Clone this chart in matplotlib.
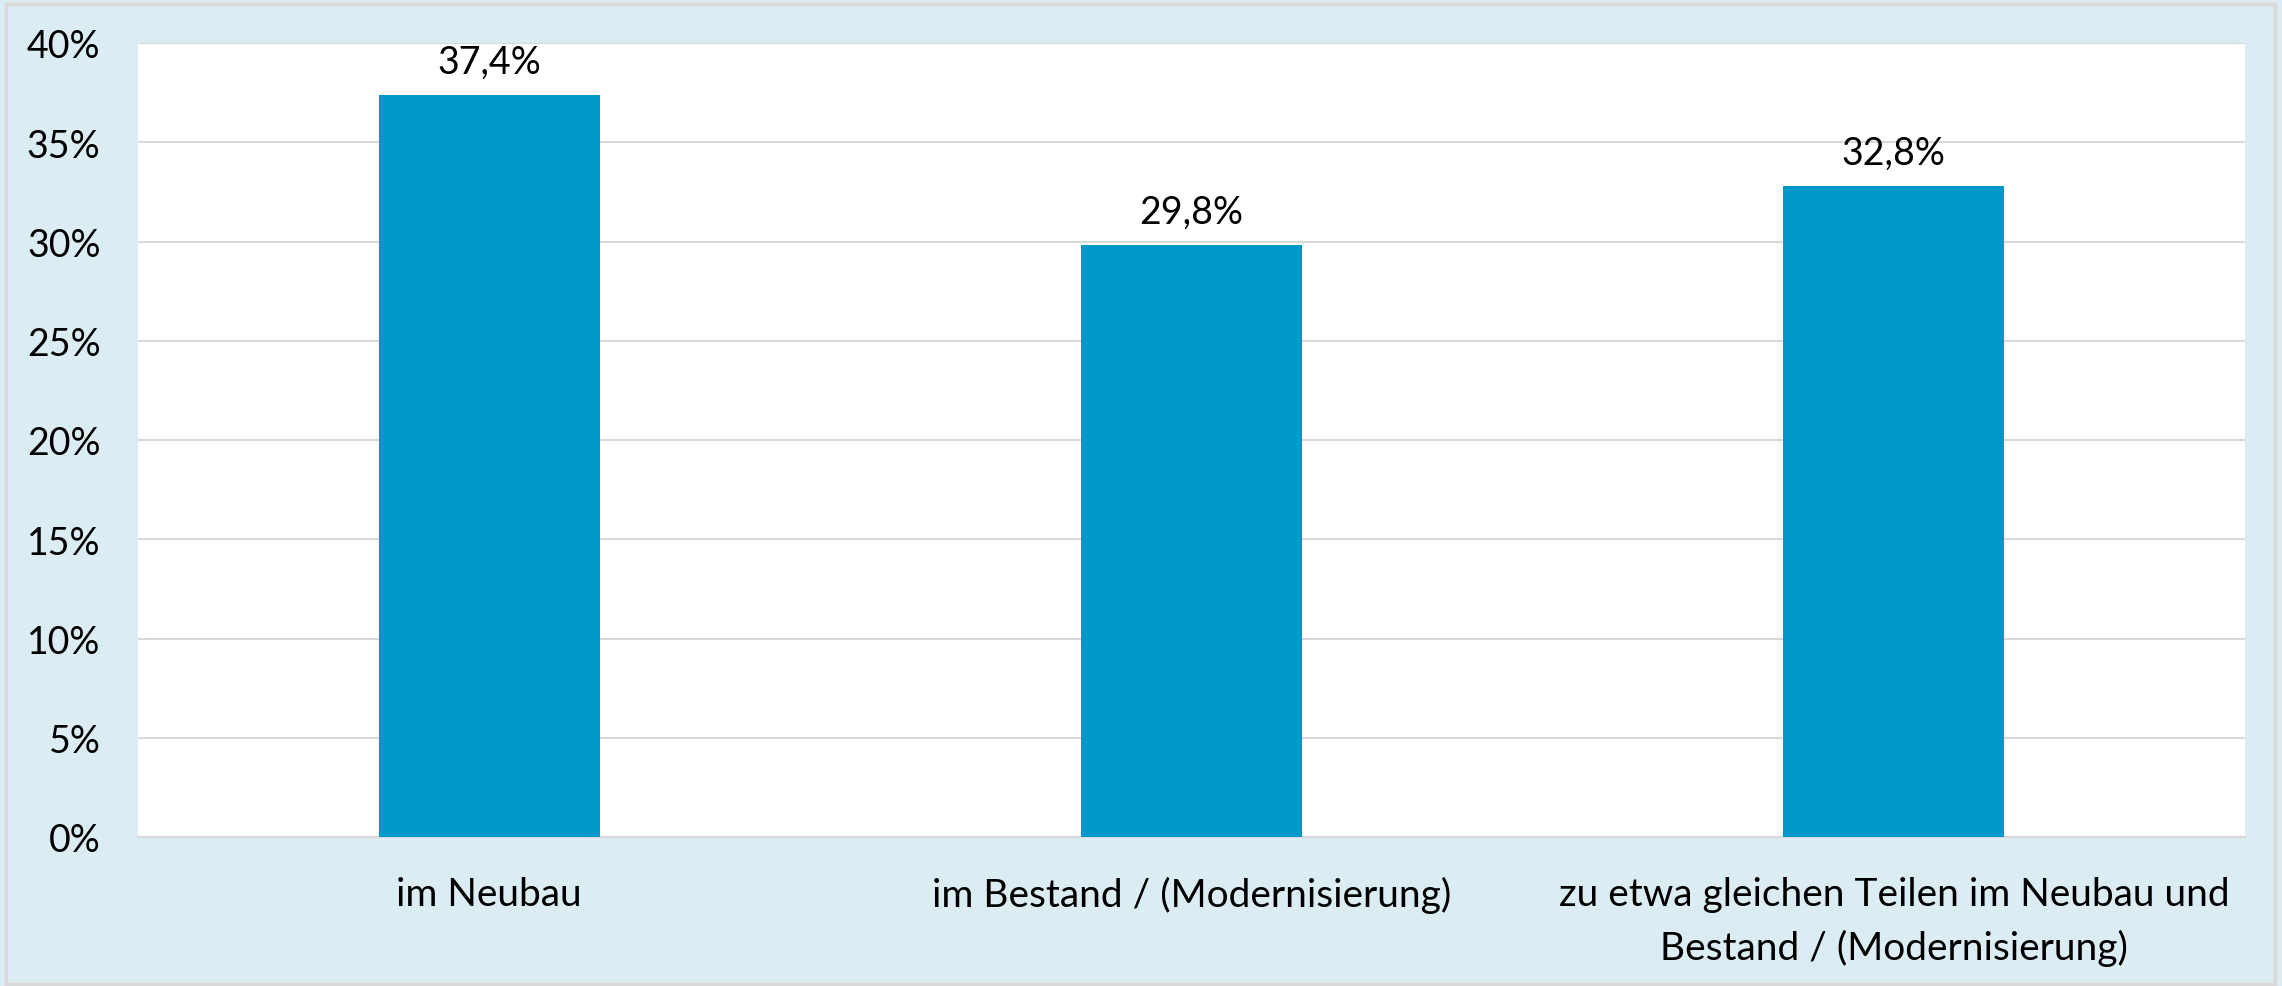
import numpy as np
import matplotlib.pyplot as plt
from matplotlib.patches import Rectangle

# data
categories = ["im Neubau",
              "im Bestand / (Modernisierung)",
              "zu etwa gleichen Teilen im Neubau und\nBestand / (Modernisierung)"]
values = [37.4, 29.8, 32.8]
value_labels = ["37,4%", "29,8%", "32,8%"]
y_ticks = [0, 5, 10, 15, 20, 25, 30, 35, 40]

bg = "#DBEDF3"
bar_color = "#0098C9"
grid_color = "#D9D9D9"

plt.rcParams['font.family'] = ['Lato', 'DejaVu Sans']

W, H = 2282, 987
fig = plt.figure(figsize=(W / 100, H / 100), dpi=100)
fig.patch.set_facecolor(bg)

# outer frame
fig.patches.append(Rectangle((6 / W, 2 / H), (2275 - 6) / W, (982 - 2) / H,
                             transform=fig.transFigure, fill=False,
                             edgecolor=grid_color, linewidth=2.5))

left, right, top, bottom = 138, 2245, 44, 838
ax = fig.add_axes([left / W, 1 - bottom / H, (right - left) / W, (bottom - top) / H])
ax.set_facecolor("white")

x = np.arange(len(categories))
ax.bar(x, values, width=0.315, color=bar_color, zorder=3)
for xi, v, lab in zip(x, values, value_labels):
    ax.annotate(lab, (xi, v), xytext=(0, 11), textcoords="offset points",
                ha="center", va="bottom", fontsize=27)

ax.set_xlim(-0.5, len(categories) - 0.5)
ax.set_ylim(0, 40)
ax.set_yticks(y_ticks)
ax.set_yticklabels([f"{t}%" for t in y_ticks], fontsize=27)
ax.set_xticks(x)
ax.set_xticklabels(categories, fontsize=28, linespacing=1.55)
ax.tick_params(axis="both", length=0)
ax.tick_params(axis="y", pad=27)
ax.tick_params(axis="x", pad=28)
for lab in ax.get_yticklabels():
    lab.set_horizontalalignment("right")

ax.grid(axis="y", color=grid_color, linewidth=1.5, zorder=0)
for s in ["left", "right", "top"]:
    ax.spines[s].set_visible(False)
ax.spines["bottom"].set_color(grid_color)
ax.spines["bottom"].set_linewidth(1.5)

fig.savefig("out.png", dpi=100, facecolor=bg)
